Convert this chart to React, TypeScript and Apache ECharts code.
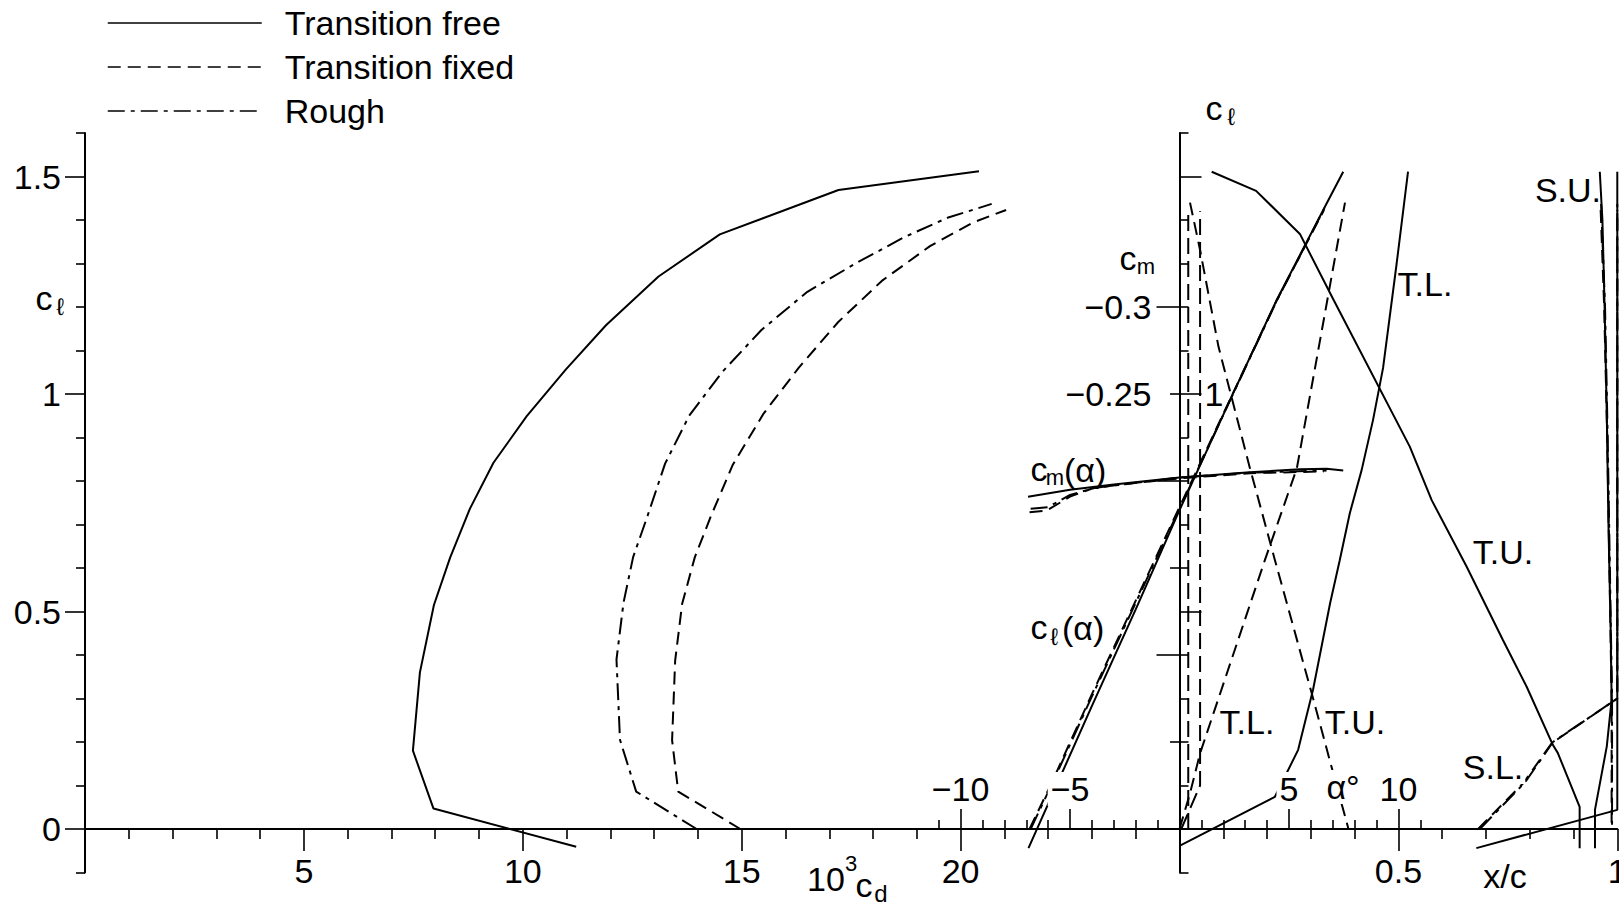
import React, { useEffect, useRef } from "react";
import * as echarts from "echarts";

const FONT = "'Liberation Sans', Arial, sans-serif";

// ---- Drag polars: 10^3 c_d against c_l ----
const freeCd = [11.22, 7.96, 7.49, 7.65, 7.97, 8.34, 8.79, 9.33, 10.09, 10.98, 11.9, 13.1, 14.5, 17.21, 20.42];
const freeCl = [-0.041, 0.047, 0.18, 0.36, 0.515, 0.624, 0.736, 0.842, 0.949, 1.056, 1.158, 1.27, 1.367, 1.469, 1.512];

const fixedCd = [14.97, 13.55, 13.41, 13.48, 13.64, 13.93, 14.3, 14.8, 15.5, 16.3, 17.2, 18.2, 19.3, 20.3, 21.04];
const fixedCl = [0.0, 0.086, 0.204, 0.387, 0.518, 0.625, 0.72, 0.838, 0.955, 1.06, 1.165, 1.26, 1.34, 1.395, 1.423];

const roughCd = [13.97, 12.59, 12.22, 12.14, 12.3, 12.52, 12.85, 13.25, 13.8, 14.55, 15.45, 16.5, 17.6, 18.7, 19.7, 20.71];
const roughCl = [0.0, 0.086, 0.205, 0.39, 0.52, 0.625, 0.72, 0.84, 0.95, 1.05, 1.147, 1.235, 1.3, 1.36, 1.405, 1.437];

// ---- Lift curves c_l(alpha) ----
const alphaFree = [-6.9, -4, -2, 0, 2.38, 4.44, 6.72, 7.48];
const clAlphaFree = [-0.044, 0.283, 0.505, 0.733, 0.994, 1.216, 1.438, 1.511];
const alphaFixed = [-6.85, -5.85, -4, -2, 0, 2.38, 4.44, 6.6];
const clAlphaFixed = [0.0, 0.105, 0.31, 0.525, 0.74, 0.995, 1.215, 1.423];
const alphaRough = [-6.8, -5.8, -4, -2, 0, 2.38, 4.44, 6.72];
const clAlphaRough = [0.0, 0.106, 0.305, 0.52, 0.736, 0.993, 1.214, 1.437];

// ---- Moment curves c_m(alpha) ----
const cmAlphaFree = [-6.92, -5, -3, 0, 3.22, 5.5, 6.72, 7.48];
const cmFree = [-0.191, -0.195, -0.198, -0.202, -0.205, -0.2068, -0.207, -0.206];
const cmAlphaFixed = [-6.85, -6.07, -5.0, -3.93, -2, 0, 3.22, 6.6];
const cmFixed = [-0.182, -0.183, -0.191, -0.196, -0.199, -0.2015, -0.2045, -0.2055];
const cmAlphaRough = [-6.8, -6.0, -5.0, -3.9, 0, 3.22, 6.72];
const cmRough = [-0.184, -0.185, -0.192, -0.196, -0.202, -0.2048, -0.206];

// ---- Transition (T) and separation (S) positions x/c, upper (U) / lower (L) ----
const tuFreeXc = [0.0735, 0.175, 0.275, 0.35, 0.526, 0.576, 0.656, 0.739, 0.793, 0.853, 0.864, 0.914, 0.914];
const tuFreeCl = [1.511, 1.467, 1.368, 1.22, 0.879, 0.756, 0.603, 0.434, 0.327, 0.193, 0.175, 0.051, -0.044];
const tlFreeXc = [0, 0.218, 0.271, 0.305, 0.344, 0.366, 0.389, 0.416, 0.442, 0.465, 0.496, 0.522];
const tlFreeCl = [-0.039, 0.074, 0.182, 0.32, 0.519, 0.618, 0.726, 0.825, 0.94, 1.06, 1.3, 1.511];
const suFreeXc = [0.96, 0.966, 0.971, 0.976, 0.98, 0.985, 0.987, 0.976, 0.949, 0.949];
const suFreeCl = [1.511, 1.4, 1.2, 0.95, 0.69, 0.45, 0.297, 0.19, 0.044, -0.044];
const slFreeXc = [0.678, 1.0, 1.0];
const slFreeCl = [-0.044, 0.044, 1.511];

const tlFixedXc = [0, 0.024, 0.047, 0.195, 0.268, 0.378];
const tlFixedCl = [0.0, 0.082, 0.174, 0.618, 0.829, 1.44];
const tuFixedXc = [0.024, 0.047, 0.089, 0.161, 0.218, 0.302, 0.348, 0.386];
const tuFixedCl = [1.44, 1.331, 1.109, 0.829, 0.618, 0.312, 0.14, 0.0];
const tripLowerXc = [0.02, 0.02];
const tripLowerCl = [0.0, 1.42];
const tripUpperXc = [0.004, 0.047, 0.047];
const tripUpperCl = [0.0, 0.1, 1.42];
const suFixedXc = [0.962, 0.97, 0.977, 0.982, 0.987, 0.987];
const suFixedCl = [1.423, 1.2, 0.9, 0.6, 0.3, 0.0];
const slFixedXc = [0.682, 0.785, 0.85, 1.0, 1.0];
const slFixedCl = [0.0, 0.105, 0.197, 0.3, 1.423];
const suRoughXc = [0.963, 0.972, 0.978, 0.983, 0.988, 0.988];
const suRoughCl = [1.437, 1.2, 0.9, 0.6, 0.3, 0.0];
const slRoughXc = [0.686, 0.79, 0.853, 1.0, 1.0];
const slRoughCl = [0.0, 0.108, 0.2, 0.3, 1.437];

// ---- Tick positions ----
const cdMinorTicks = [0, 1, 2, 3, 4, 6, 7, 8, 9, 11, 12, 13, 14, 16, 17, 18, 19, 21, 22, 23, 24];
const cdMajorTicks = [5, 10, 15, 20];
const alphaMinorTicks = [-11, -9, -8, -7, -6, -4, -3, -2, -1, 1, 2, 3, 4, 6, 7, 8, 9, 11];
const alphaMajorTicks = [-10, -5, 5, 10];
const xcMinorTicks = [0.1, 0.2, 0.3, 0.4, 0.6, 0.7, 0.8, 0.9];
const xcMajorTicks = [0.5, 1];
const clMinorTicks = [-0.1, 0.1, 0.2, 0.3, 0.4, 0.6, 0.7, 0.8, 0.9, 1.1, 1.2, 1.3, 1.4, 1.6];
const clMajorTicks = [0, 0.5, 1, 1.5];
const clRightMajorTicks = [0.5, 1, 1.5];
const clRightLabels = [1];
const cmMidTicks = [-0.05, -0.15, -0.25];
const cmLongTicks = [-0.1, -0.2, -0.3];
const cmMidLabels = [-0.25];
const cmLongLabels = [-0.3];

// Shared horizontal scale: 10^3 c_d, alpha = 2 c_d - 50, x/c = alpha / 20
const CD_MIN = 0, CD_MAX = 35;
const ALPHA_MIN = -50, ALPHA_MAX = 20;
const XC_MIN = -2.5, XC_MAX = 1;
const CL_MIN = -0.1, CL_MAX = 1.6;
const CM_MIN = -0.4, CM_MAX = 0.025;

// plotting frame, the part above c_l = 0, and the part right of alpha = 0
const FULL = { left: 85, top: 133, width: 1532.3, height: 739.5 };
const UPPER = { left: 85, top: 133, width: 1532.3, height: 696 };
const RIGHT = { left: 1179.5, top: 133, width: 437.8, height: 739.5 };

const INK = "#000";
const SOLID = "solid";
const DASHED = [13, 7];
const DASHDOT = [17, 6, 4, 6];
const TRIP = [16, 7];

const zip = (xs: number[], ys: number[]) => xs.map((x, i) => [x, ys[i]]);
const minus = (v: number) => String(v).replace("-", "\u2212");

const tickStyle = { color: INK, width: 1.6 };
const labelBase = { color: INK, fontFamily: FONT, fontSize: 34 };

function axis(gridIndex: number, min: number, max: number, extra: any = {}, lineShown = false) {
  return {
    type: "value",
    gridIndex,
    min,
    max,
    splitLine: { show: false },
    axisLine: { show: lineShown, onZero: false, lineStyle: { color: INK, width: 2 } },
    axisTick: { show: false },
    axisLabel: { show: false },
    ...extra,
  };
}
const hidden = (gridIndex: number, min: number, max: number, extra: any = {}) => ({
  type: "value",
  gridIndex,
  min,
  max,
  show: false,
  splitLine: { show: false },
  ...extra,
});

function ticks(values: number[], length: number, inside = false) {
  return { show: true, customValues: values, length, inside, lineStyle: tickStyle };
}

function labels(values: number[], margin: number, extra: any = {}) {
  return { show: true, customValues: values, margin, ...labelBase, ...extra };
}

function line(name: string, data: number[][], type: any, gridAxis: number) {
  return {
    type: "line",
    name,
    data,
    xAxisIndex: gridAxis,
    yAxisIndex: gridAxis,
    symbol: "none",
    showSymbol: false,
    silent: true,
    animation: false,
    lineStyle: { color: INK, width: 2, type },
    itemStyle: { color: INK },
  };
}

function txt(x: number, y: number, text: string, size = 34, extra: any = {}) {
  return {
    type: "text",
    x,
    y,
    z: 100,
    silent: true,
    style: {
      text,
      fontSize: size,
      fontFamily: FONT,
      fill: INK,
      align: "center",
      verticalAlign: "middle",
      ...extra,
    },
  };
}

const FREE = "Transition free";
const FIXED = "Transition fixed";
const ROUGH = "Rough";

function buildOption() {
  const rects = [
    FULL, // 0 polars + left c_l axis line and minor ticks
    UPPER, // 1 horizontal axis line + c_d minor ticks
    UPPER, // 2 c_d major ticks and labels
    UPPER, // 3 alpha minor ticks
    UPPER, // 4 alpha major ticks and labels
    UPPER, // 5 x/c minor ticks
    UPPER, // 6 x/c major ticks and labels
    FULL, // 7 left c_l major ticks and labels
    RIGHT, // 8 right c_l axis line and minor ticks
    RIGHT, // 9 right c_l major ticks
    RIGHT, // 10 c_m mid ticks
    RIGHT, // 11 c_m long ticks
    FULL, // 12 c_l(alpha)
    FULL, // 13 c_m(alpha)
    FULL, // 14 transition / separation vs x/c
  ];
  const grid = rects.map((r) => ({ ...r, containLabel: false, outerBoundsMode: "none" }));

  const xAxis = [
    hidden(0, CD_MIN, CD_MAX),
    axis(1, CD_MIN, CD_MAX, { position: "bottom", axisTick: ticks(cdMinorTicks, 10) }, true),
    axis(2, CD_MIN, CD_MAX, {
      position: "bottom",
      axisTick: ticks(cdMajorTicks, 22),
      axisLabel: labels(cdMajorTicks, 25),
    }),
    axis(3, ALPHA_MIN, ALPHA_MAX, { position: "bottom", axisTick: ticks(alphaMinorTicks, 9, true) }),
    axis(4, ALPHA_MIN, ALPHA_MAX, {
      position: "bottom",
      z: 5,
      axisTick: ticks(alphaMajorTicks, 20, true),
      axisLabel: labels(alphaMajorTicks, 23, {
        inside: true,
        formatter: minus,
        backgroundColor: "#fff",
        padding: [0, 3, 0, 3],
      }),
    }),
    axis(5, XC_MIN, XC_MAX, { position: "bottom", axisTick: ticks(xcMinorTicks, 10) }),
    axis(6, XC_MIN, XC_MAX, {
      position: "bottom",
      axisTick: ticks(xcMajorTicks, 22),
      axisLabel: labels(xcMajorTicks, 25),
    }),
    hidden(7, CD_MIN, CD_MAX),
    hidden(8, 0, 1),
    hidden(9, 0, 1),
    hidden(10, 0, 1),
    hidden(11, 0, 1),
    hidden(12, ALPHA_MIN, ALPHA_MAX),
    hidden(13, ALPHA_MIN, ALPHA_MAX),
    hidden(14, XC_MIN, XC_MAX),
  ];

  const yAxis = [
    axis(0, CL_MIN, CL_MAX, { position: "left", axisTick: ticks(clMinorTicks, 9) }, true),
    hidden(1, 0, CL_MAX),
    hidden(2, 0, CL_MAX),
    hidden(3, 0, CL_MAX),
    hidden(4, 0, CL_MAX),
    hidden(5, 0, CL_MAX),
    hidden(6, 0, CL_MAX),
    axis(7, CL_MIN, CL_MAX, {
      position: "left",
      axisTick: ticks(clMajorTicks, 20),
      axisLabel: labels(clMajorTicks, 24),
    }),
    axis(8, CL_MIN, CL_MAX, { position: "left", axisTick: ticks(clMinorTicks, 9, true) }, true),
    axis(9, CL_MIN, CL_MAX, {
      position: "left",
      axisTick: ticks(clRightMajorTicks, 22, true),
      axisLabel: labels(clRightLabels, 25, { inside: true }),
    }),
    axis(10, CM_MIN, CM_MAX, {
      position: "left",
      inverse: true,
      axisTick: ticks(cmMidTicks, 9.5),
      axisLabel: labels(cmMidLabels, 28, { formatter: minus }),
    }),
    axis(11, CM_MIN, CM_MAX, {
      position: "left",
      inverse: true,
      axisTick: ticks(cmLongTicks, 23),
      axisLabel: labels(cmLongLabels, 28, { formatter: minus }),
    }),
    hidden(12, CL_MIN, CL_MAX),
    hidden(13, CM_MIN, CM_MAX, { inverse: true }),
    hidden(14, CL_MIN, CL_MAX),
  ];

  const series = [
    // drag polars
    line(FREE, zip(freeCd, freeCl), SOLID, 0),
    line(FIXED, zip(fixedCd, fixedCl), DASHED, 0),
    line(ROUGH, zip(roughCd, roughCl), DASHDOT, 0),
    // lift curves
    line(FREE, zip(alphaFree, clAlphaFree), SOLID, 12),
    line(FIXED, zip(alphaFixed, clAlphaFixed), DASHED, 12),
    line(ROUGH, zip(alphaRough, clAlphaRough), DASHDOT, 12),
    // moment curves
    line(FREE, zip(cmAlphaFree, cmFree), SOLID, 13),
    line(FIXED, zip(cmAlphaFixed, cmFixed), DASHED, 13),
    line(ROUGH, zip(cmAlphaRough, cmRough), DASHDOT, 13),
    // transition and separation
    line(FREE, zip(tuFreeXc, tuFreeCl), SOLID, 14),
    line(FREE, zip(tlFreeXc, tlFreeCl), SOLID, 14),
    line(FREE, zip(suFreeXc, suFreeCl), SOLID, 14),
    line(FREE, zip(slFreeXc, slFreeCl), SOLID, 14),
    line(FIXED, zip(tlFixedXc, tlFixedCl), DASHED, 14),
    line(FIXED, zip(tuFixedXc, tuFixedCl), DASHED, 14),
    line(FIXED, zip(tripLowerXc, tripLowerCl), TRIP, 14),
    line(FIXED, zip(tripUpperXc, tripUpperCl), TRIP, 14),
    line(FIXED, zip(suFixedXc, suFixedCl), DASHED, 14),
    line(FIXED, zip(slFixedXc, slFixedCl), DASHED, 14),
    line(ROUGH, zip(suRoughXc, suRoughCl), DASHDOT, 14),
    line(ROUGH, zip(slRoughXc, slRoughCl), DASHDOT, 14),
  ];

  const graphic = [
    // left c_l
    txt(44, 298, "c"),
    txt(60, 306, "\u2113", 24),
    // right c_l
    txt(1214, 108, "c"),
    txt(1231, 116, "\u2113", 24),
    // c_m scale title
    txt(1128, 258, "c"),
    txt(1146, 266, "m", 22),
    // curve names
    txt(1039, 469, "c"),
    txt(1055, 477, "m", 22),
    txt(1064, 470, "(\u03b1)", 34, { align: "left" }),
    txt(1039, 627, "c"),
    txt(1054, 636, "\u2113", 24),
    txt(1062, 628, "(\u03b1)", 34, { align: "left" }),
    // transition / separation tags
    txt(1425, 284, "T.L."),
    txt(1503, 552, "T.U."),
    txt(1568, 190, "S.U."),
    txt(1493, 767, "S.L.", 34, { backgroundColor: "#fff", padding: [0, 2, 0, 2] }),
    txt(1247, 722, "T.L."),
    txt(1355, 722, "T.U."),
    // axis names
    txt(1343, 787, "\u03b1\u00b0", 34, { backgroundColor: "#fff", padding: [0, 2, 0, 2] }),
    txt(826, 879, "10"),
    txt(851, 863, "3", 22),
    txt(864, 885, "c"),
    txt(881, 893, "d", 24),
    txt(1505, 876, "x/c"),
  ];

  return {
    animation: false,
    backgroundColor: "#fff",
    grid,
    xAxis,
    yAxis,
    series,
    graphic,
    legend: {
      show: true,
      orient: "vertical",
      left: 107,
      top: 3,
      padding: 0,
      itemWidth: 154,
      itemHeight: 14,
      itemGap: 4,
      selectedMode: false,
      data: [FREE, FIXED, ROUGH],
      itemStyle: { opacity: 0 },
      lineStyle: { width: 1.5 },
      textStyle: { ...labelBase, lineHeight: 40, padding: [0, 0, 0, 18] },
    },
  };
}

export default function App() {
  const ref = useRef<HTMLDivElement>(null);
  useEffect(() => {
    if (!ref.current) return;
    const chart = echarts.init(ref.current, undefined, { renderer: "svg" });
    chart.setOption(buildOption() as any);
    return () => chart.dispose();
  }, []);
  return (
    <div
      ref={ref}
      style={{ position: "fixed", left: 0, top: 0, width: 1619, height: 907, background: "#fff" }}
    />
  );
}
